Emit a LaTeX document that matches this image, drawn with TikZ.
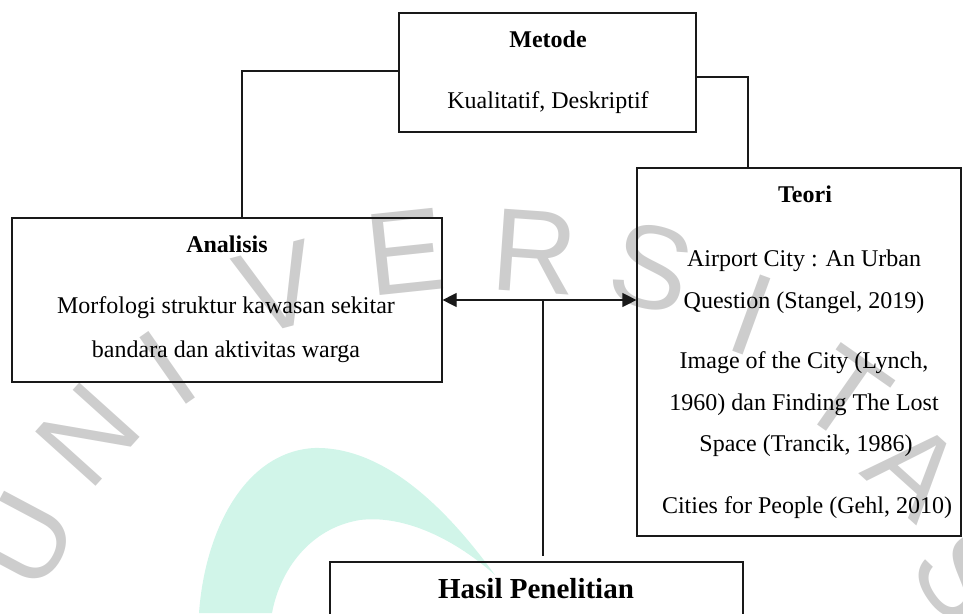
\documentclass[tikz,border=0pt]{standalone}
\usepackage{fontspec}
\setmainfont{Liberation Serif}
\newfontfamily\wmfont{Liberation Sans}
\usetikzlibrary{arrows.meta}
\definecolor{wmgray}{RGB}{205,205,205}
\definecolor{mint}{RGB}{209,245,233}
\definecolor{ink}{RGB}{25,25,25}
\tikzset{
  box/.style={draw=ink, line width=1.2pt, inner sep=0pt, rectangle},
  conn/.style={draw=ink, line width=1.2pt},
  txt/.style={anchor=base, inner sep=0pt, font=\fontsize{24}{28}\selectfont},
  ttl/.style={anchor=base, inner sep=0pt, font=\fontsize{24}{28}\selectfont\bfseries},
  big/.style={anchor=base, inner sep=0pt, font=\fontsize{29}{34}\selectfont\bfseries},
  wm/.style={text=wmgray, inner sep=0pt, font=\wmfont\fontsize{118}{120}\selectfont},
  tip/.style={-{Triangle[length=14pt,width=14pt]}}
}
\begin{document}
\begin{tikzpicture}[x=1pt,y=-1pt]
\useasboundingbox (0,0) rectangle (963,613);
\clip (0,0) rectangle (963,613);
% watermark
\fill[mint] (199,613) .. controls (205,530) and (245,452) .. (314,448)
  .. controls (390,446) and (455,520) .. (495,575)
  .. controls (450,535) and (400,515) .. (360,520)
  .. controls (310,528) and (280,570) .. (272,613) -- cycle;
\node[wm, rotate=62] (w1) at (25,540) {U};
\node[wm, rotate=48] (w2) at (88,435) {N};
\node[wm, rotate=35] (w3) at (168,368) {I};
\node[wm, rotate=15] (w4) at (278,288) {V};
\node[wm, rotate=6] (w5) at (405,252) {E};
\node[wm, rotate=-4] (w6) at (535,252) {R};
\node[wm, rotate=-14] (w7) at (652,268) {S};
\node[wm, rotate=-20] (w8) at (752,315) {I};
\node[wm, rotate=-35] (w9) at (845,395) {T};
\node[wm, rotate=-42] (w10) at (915,470) {A};
\node[wm, rotate=-55] (w11) at (962,575) {S};
% boxes
\node[box, minimum width=297pt, minimum height=119pt] (metode) at (547.5,72.5) {};
\node[box, minimum width=430pt, minimum height=164pt] (analisis) at (227,300) {};
\node[box, minimum width=324pt, minimum height=368pt] (teori) at (799,352) {};
\node[box, minimum width=413pt, minimum height=100pt] (hasil) at (536.5,612) {};
% texts
\node[ttl] (t1) at (548,47) {Metode};
\node[txt] (t2) at (548,108) {Kualitatif, Deskriptif};
\node[ttl] (t3) at (227,252) {Analisis};
\node[txt] (t4) at (226,313) {Morfologi struktur kawasan sekitar};
\node[txt] (t5) at (226,357) {bandara dan aktivitas warga};
\node[ttl] (t6) at (805,202) {Teori};
\node[txt] (t7) at (804,266) {Airport City : An Urban};
\node[txt] (t8) at (804,308) {Question (Stangel, 2019)};
\node[txt] (t9) at (804,368) {Image of the City (Lynch,};
\node[txt] (t10) at (804,410) {1960) dan Finding The Lost};
\node[txt] (t11) at (806,451) {Space (Trancik, 1986)};
\node[txt] (t12) at (807,513) {Cities for People (Gehl, 2010)};
\node[big] (t13) at (536,598) {Hasil Penelitian};
% connectors
\coordinate (lk) at (242,0);
\coordinate (lk2) at (87,0);
\coordinate (rk) at (748,0);
\coordinate (rk2) at (802,0);
\coordinate (mid) at (543,300);
\draw[conn] ([yshift=1.5pt]metode.west) -| (analisis.north -| lk) -- (analisis.north -| lk2);
\draw[conn] ([yshift=-4.5pt]metode.east) -| (teori.north -| rk) -- (teori.north -| rk2);
\draw[conn, tip] (mid) -- (teori.west |- mid);
\draw[conn, tip] (mid) -- (analisis.east |- mid);
\draw[conn] (mid) -- ([yshift=5pt]hasil.north -| mid);
\end{tikzpicture}
\end{document}
